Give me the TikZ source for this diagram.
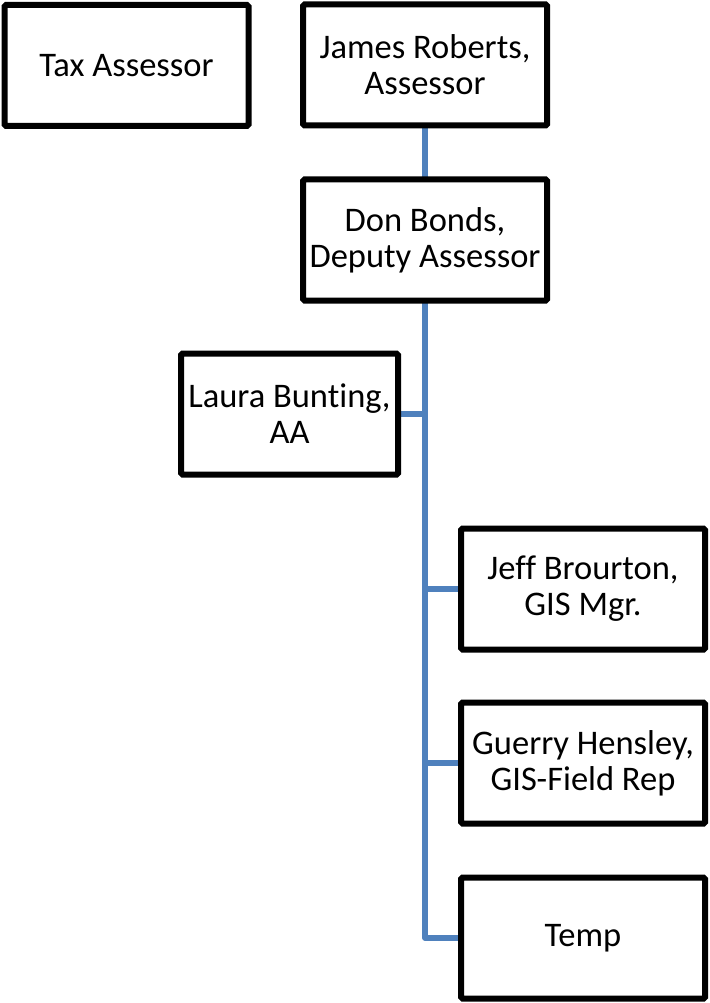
\documentclass[tikz,border=0pt]{standalone}
\usepackage{fontspec}
\setmainfont[Ligatures={NoCommon}]{Carlito}
\usetikzlibrary{backgrounds}
\definecolor{connblue}{HTML}{4F81BD}
\begin{document}
\begin{tikzpicture}[x=1pt,y=-1pt,
  box/.style={draw=black, fill=white, line width=6pt, rounded corners=1.5pt,
    minimum width=244pt, minimum height=121pt, inner sep=0pt, align=center,
    font=\fontsize{34.5}{36}\selectfont},
  conn/.style={draw=connblue, line width=5.5pt, line join=round}]
\useasboundingbox (0,0) rectangle (709,1003);
\node[box] (tax) at (126.5,65.5) {Tax Assessor};
\node[box] (james) at (425,65) {James Roberts,\\Assessor};
\node[box] (don) at (425,240) {Don Bonds,\\Deputy Assessor};
\node[box, minimum width=217pt] (laura) at (289.5,414) {Laura Bunting,\\AA};
\node[box] (jeff) at (583,589) {Jeff Brourton,\\GIS Mgr.};
\node[box] (guerry) at (583,763) {Guerry Hensley,\\GIS-Field Rep};
\node[box] (temp) at (583,938) {Temp};
\begin{scope}[on background layer]
\draw[conn] (james.south) -- (james.south |- temp.west) -- (temp.west);
\draw[conn] (laura.east) -- (laura.east -| james.south);
\draw[conn] (jeff.west) -- (jeff.west -| james.south);
\draw[conn] (guerry.west) -- (guerry.west -| james.south);
\end{scope}
\end{tikzpicture}
\end{document}
